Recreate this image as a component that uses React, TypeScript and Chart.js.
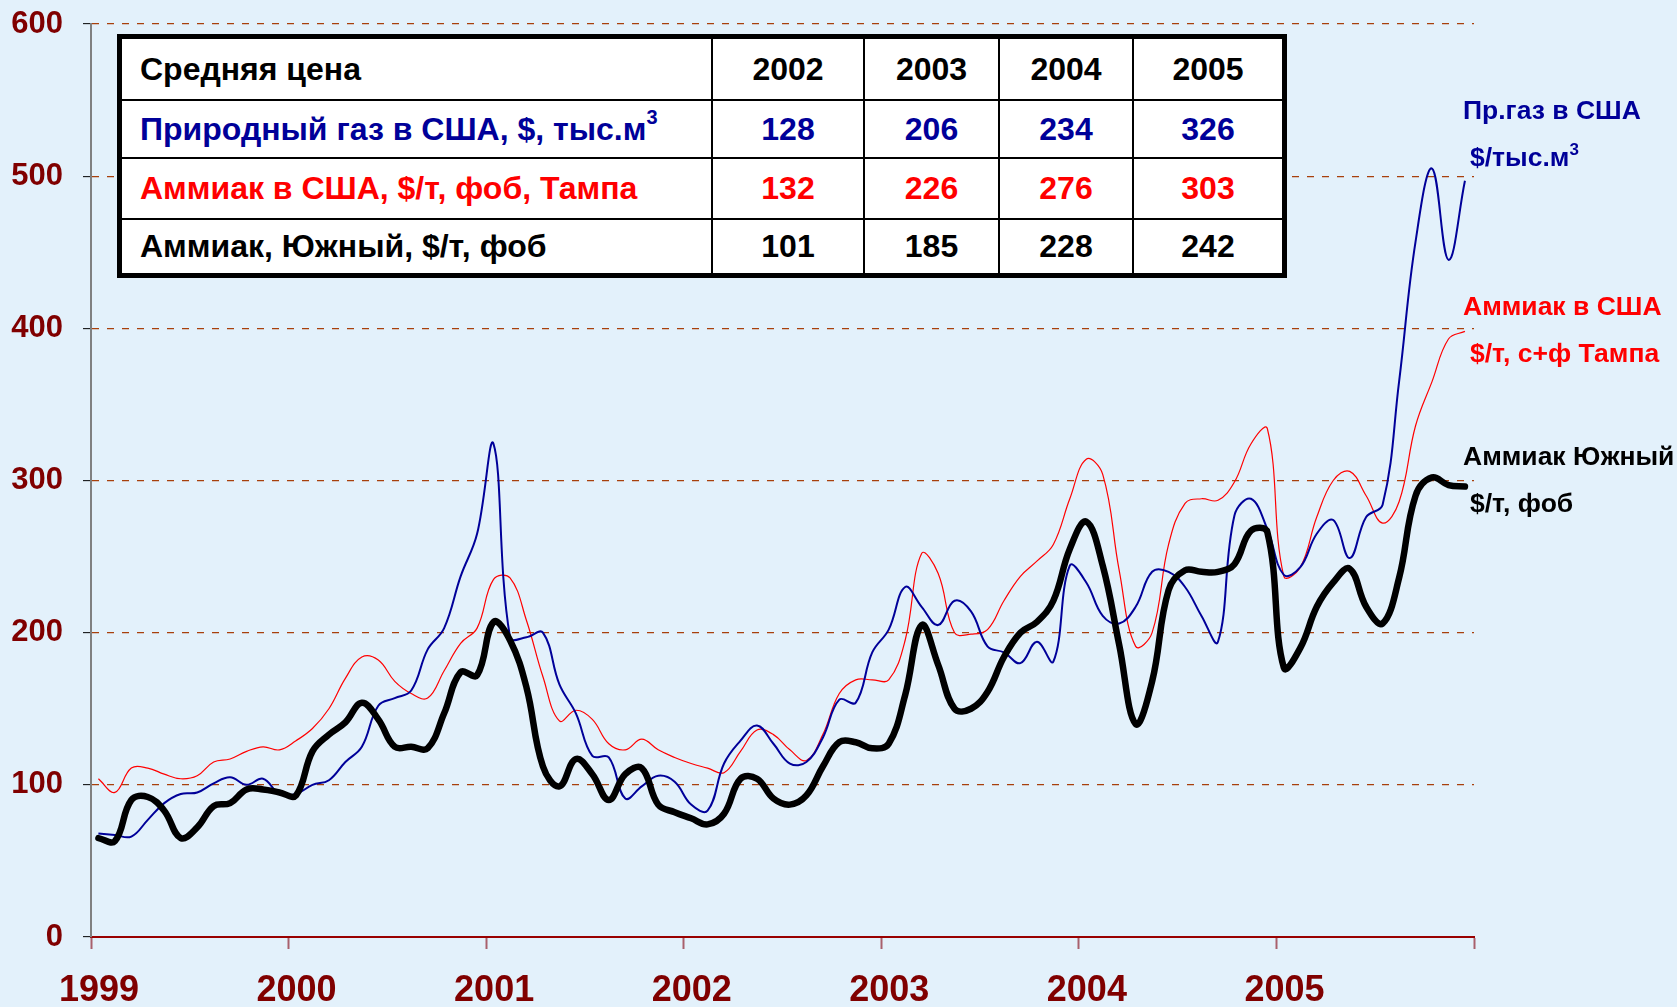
import React, { useEffect, useRef } from "react";
import { Chart, registerables } from "chart.js";

Chart.register(...registerables);

// ---- data (monthly, Jan 1999 – Dec 2005) ----
const years = ["1999", "2000", "2001", "2002", "2003", "2004", "2005"];

const gasUS = [
  68, 67, 66, 77, 88, 94, 95, 101, 105, 100, 104, 94,
  94, 100, 103, 115, 125, 152, 157, 162, 189, 203, 237, 265,
  324, 197, 197, 200, 166, 147, 119, 118, 91, 99, 106, 102,
  87, 83, 114, 129, 139, 127, 114, 115, 131, 156, 154, 187,
  202, 230, 217, 205, 221, 214, 191, 187, 180, 194, 181, 244,
  233, 211, 206, 217, 240, 240, 230, 211, 194, 277, 288, 268,
  238, 243, 265, 274, 249, 276, 284, 365, 457, 505, 445, 497,
];

const ammoniaUS = [
  104, 95, 111, 111, 107, 104, 106, 115, 117, 122, 125, 123,
  129, 137, 150, 170, 184, 182, 168, 160, 157, 175, 193, 203,
  235, 236, 208, 171, 142, 149, 143, 127, 123, 130, 123, 118,
  114, 111, 108, 122, 136, 133, 123, 116, 133, 160, 169, 169,
  169, 195, 252, 239, 200, 199, 202, 221, 237, 247, 258, 288,
  314, 304, 241, 191, 200, 258, 285, 288, 287, 299, 324, 334,
  237, 243, 276, 300, 306, 290, 272, 286, 336, 365, 393, 398,
];

const ammoniaYuzhny = [
  65, 63, 90, 92, 83, 65, 72, 86, 88, 97, 97, 95,
  93, 122, 133, 141, 154, 143, 125, 125, 124, 147, 174, 172,
  207, 195, 164, 112, 99, 117, 107, 90, 107, 111, 87, 82,
  78, 74, 81, 104, 104, 91, 87, 93, 112, 128, 128, 124,
  127, 159, 205, 179, 150, 150, 161, 184, 200, 207, 221, 255,
  273, 244, 192, 140, 168, 228, 241, 240, 240, 245, 267, 266,
  177, 190, 217, 233, 242, 217, 206, 236, 290, 302, 297, 296,
];

const tableYears = ["2002", "2003", "2004", "2005"];
const tableGas = [128, 206, 234, 326];
const tableAmmoniaUS = [132, 226, 276, 303];
const tableAmmoniaYuzhny = [101, 185, 228, 242];

const yMin = 0;
const yMax = 600;
const yStep = 100;

// ---- styles ----
const FONT = '"Liberation Sans", Arial, sans-serif';
const BG = "#E3F1FB";
const BLUE = "#000099";
const RED = "#FF0000";
const AXIS_RED = "#800000";

const toPoints = (arr: number[]) => arr.map((v, i) => ({ x: i + 0.45, y: v }));

export default function App() {
  const canvasRef = useRef<HTMLCanvasElement | null>(null);

  useEffect(() => {
    const canvas = canvasRef.current;
    if (!canvas) return;
    const chart = new Chart(canvas, {
      type: "line",
      data: {
        datasets: [
          {
            label: "Аммиак Южный",
            data: toPoints(ammoniaYuzhny),
            borderColor: "#000000",
            borderWidth: 6.5,
            pointRadius: 0,
            tension: 0.4,
            fill: false,
            borderCapStyle: "round",
            borderJoinStyle: "round",
          },
          {
            label: "Пр.газ в США",
            data: toPoints(gasUS),
            borderColor: BLUE,
            borderWidth: 2,
            pointRadius: 0,
            tension: 0.4,
            fill: false,
          },
          {
            label: "Аммиак в США",
            data: toPoints(ammoniaUS),
            borderColor: RED,
            borderWidth: 1.2,
            pointRadius: 0,
            tension: 0.4,
            fill: false,
          },
        ],
      },
      options: {
        responsive: false,
        devicePixelRatio: 1,
        animation: false,
        events: [],
        layout: { padding: { top: 24, right: 203, left: 0, bottom: 0 } },
        plugins: { legend: { display: false }, tooltip: { enabled: false } },
        scales: {
          x: {
            type: "linear",
            min: 0,
            max: 84,
            afterFit: (s: any) => {
              s.height = 70;
              s.paddingLeft = 0;
              s.paddingRight = 0;
            },
            ticks: {
              stepSize: 12,
              autoSkip: false,
              maxRotation: 0,
              padding: 20,
              labelOffset: 8,
              color: AXIS_RED,
              font: { family: FONT, size: 36, weight: "bold" },
              callback: (v: any) => {
                const idx = Math.round(Number(v) / 12);
                return idx < years.length ? years[idx] : "";
              },
            },
            grid: {
              drawOnChartArea: false,
              drawTicks: true,
              tickLength: 12,
              tickColor: "#A8606C",
              tickWidth: 2,
            },
            border: { display: true, color: "#990000", width: 2 },
          },
          y: {
            min: yMin,
            max: yMax,
            afterFit: (s: any) => {
              s.width = 91;
              s.paddingTop = 0;
              s.paddingBottom = 0;
            },
            ticks: {
              stepSize: yStep,
              padding: 20,
              color: AXIS_RED,
              font: { family: FONT, size: 31, weight: "bold" },
            },
            grid: {
              color: (ctx: any) =>
                ctx.tick && ctx.tick.value === 0 ? "rgba(0,0,0,0)" : "#A8400C",
              lineWidth: 1.3,
              tickLength: 8,
              tickColor: "#000000",
              tickWidth: 1,
              tickBorderDash: [],
            },
            border: { display: true, color: "#808080", width: 2, dash: [7, 8] },
          },
        },
      },
    } as any);
    return () => chart.destroy();
  }, []);

  const COLS = [589, 150, 133, 132, 148];
  const ROWS = [60, 56, 59, 53];

  const cellBase: React.CSSProperties = {
    background: "#FFFFFF",
    display: "flex",
    alignItems: "center",
    justifyContent: "center",
    fontFamily: FONT,
    fontWeight: "bold",
    fontSize: 32,
    whiteSpace: "nowrap",
  };
  const firstCell: React.CSSProperties = {
    ...cellBase,
    justifyContent: "flex-start",
    paddingLeft: 18,
  };

  const rows: { label: React.ReactNode; values: (string | number)[]; color: string }[] = [
    { label: "Средняя цена", values: tableYears, color: "#000000" },
    {
      label: (
        <span>
          Природный газ в США, $, тыс.м
          <sup style={{ fontSize: 20, verticalAlign: "top", lineHeight: 1, position: "relative", top: -4 }}>3</sup>
        </span>
      ),
      values: tableGas,
      color: BLUE,
    },
    { label: "Аммиак в США, $/т, фоб, Тампа", values: tableAmmoniaUS, color: RED },
    { label: "Аммиак, Южный, $/т, фоб", values: tableAmmoniaYuzhny, color: "#000000" },
  ];

  const sideLabel = (text: React.ReactNode, left: number, top: number, color: string) => (
    <div
      style={{
        position: "absolute",
        left,
        top,
        fontFamily: FONT,
        fontWeight: "bold",
        fontSize: 26.5,
        lineHeight: 1,
        color,
        whiteSpace: "nowrap",
      }}
    >
      {text}
    </div>
  );

  return (
    <div
      style={{
        position: "fixed",
        left: 0,
        top: 0,
        width: 1677,
        height: 1007,
        background: BG,
        overflow: "hidden",
      }}
    >
      <canvas
        ref={canvasRef}
        width={1677}
        height={1007}
        style={{ position: "absolute", left: 0, top: 0, width: 1677, height: 1007 }}
      />
      <div
        style={{
          position: "absolute",
          left: 117,
          top: 34,
          width: 1170,
          height: 244,
          boxSizing: "border-box",
          border: "5px solid #000",
          background: "#000",
          display: "grid",
          gridTemplateColumns: COLS.map((c) => c + "px").join(" "),
          gridTemplateRows: ROWS.map((r) => r + "px").join(" "),
          gap: 2,
        }}
      >
        {rows.map((r, ri) => (
          <React.Fragment key={ri}>
            <div style={{ ...firstCell, color: r.color }}>{r.label}</div>
            {r.values.map((v, vi) => (
              <div key={vi} style={{ ...cellBase, color: r.color }}>
                {v}
              </div>
            ))}
          </React.Fragment>
        ))}
      </div>
      {sideLabel("Пр.газ в США", 1463, 97, BLUE)}
      {sideLabel(
        <span>
          $/тыс.м
          <sup style={{ fontSize: 17, verticalAlign: "top", lineHeight: 1, position: "relative", top: -3 }}>3</sup>
        </span>,
        1470,
        144,
        BLUE
      )}
      {sideLabel("Аммиак в США", 1463, 293, RED)}
      {sideLabel("$/т, с+ф Тампа", 1470, 340, RED)}
      {sideLabel("Аммиак Южный", 1463, 443, "#000000")}
      {sideLabel("$/т, фоб", 1470, 490, "#000000")}
    </div>
  );
}
